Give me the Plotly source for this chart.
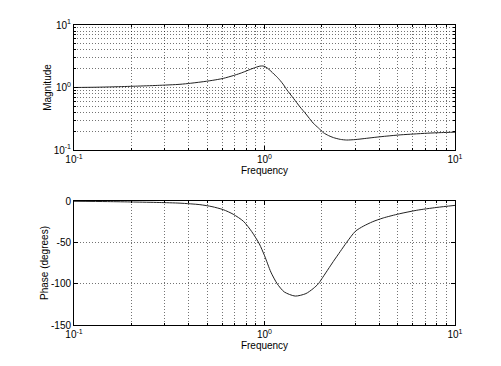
import plotly.graph_objects as go

# Magnitude response
freq_mag = [0.1, 0.13, 0.162, 0.21, 0.274, 0.36, 0.41, 0.497, 0.565, 0.608, 0.685, 0.744, 0.8,
            0.846, 0.9, 0.948, 0.98, 1.006, 1.034, 1.08, 1.12, 1.159, 1.21, 1.26, 1.31, 1.42,
            1.535, 1.65, 1.8, 1.92, 2.04, 2.17, 2.3, 2.5, 2.7, 3.0, 3.44, 3.9, 4.39, 5.2,
            6.04, 7.2, 8.5, 10.0]
mag = [1.0, 1.01, 1.025, 1.05, 1.08, 1.125, 1.17, 1.26, 1.34, 1.40, 1.55, 1.68, 1.83,
       1.96, 2.1, 2.2, 2.21, 2.16, 2.05, 1.83, 1.64, 1.49, 1.29, 1.1, 0.92, 0.67,
       0.49, 0.377, 0.27, 0.225, 0.189, 0.170, 0.158, 0.148, 0.1445, 0.147, 0.154, 0.161, 0.167, 0.175,
       0.180, 0.186, 0.19, 0.193]

# Phase response
freq_ph = [0.1, 0.15, 0.205, 0.28, 0.36, 0.458, 0.53, 0.608, 0.685, 0.775, 0.857, 0.94,
           1.0, 1.08, 1.165, 1.27, 1.45, 1.65, 1.8, 1.92, 2.0, 2.3, 2.5, 2.7, 3.0,
           3.3, 3.7, 4.2, 5.1, 6.3, 8.0, 10.0]
phase = [-0.3, -0.7, -1.2, -1.8, -2.6, -4.4, -6.8, -10.5, -16.0, -24.5, -37.0, -52.0,
         -66.0, -86.0, -100.0, -110.0, -115.0, -112.0, -106.0, -100.0, -94.0, -73.0, -61.0,
         -50.0, -36.6, -30.5, -25.0, -20.5, -15.5, -11.2, -7.8, -5.3]

x_tickvals = [0.1, 1, 10]
x_ticktext = ["10<sup>-1</sup>", "10<sup>0</sup>", "10<sup>1</sup>"]
log_minor = [d * m for m in (0.1, 1) for d in range(2, 10)]
mag_tickvals = [0.1, 1, 10]
mag_ticktext = ["10<sup>-1</sup>", "10<sup>0</sup>", "10<sup>1</sup>"]
ph_tickvals = [0, -50, -100, -150]
ph_ticktext = ["0", "-50", "-100", "-150"]

FONT = "Liberation Sans, Arial, Helvetica, sans-serif"
GRID = "rgba(0,0,0,0.55)"
DASH = "1px,2px"

fig = go.Figure()
fig.add_trace(go.Scatter(x=freq_mag, y=mag, mode="lines",
                         line=dict(color="#222", width=1, shape="spline", smoothing=0.7),
                         xaxis="x", yaxis="y", showlegend=False))
fig.add_trace(go.Scatter(x=freq_ph, y=phase, mode="lines",
                         line=dict(color="#222", width=1, shape="spline", smoothing=0.7),
                         xaxis="x2", yaxis="y2", showlegend=False))

common_x = dict(type="log", range=[-1, 1], tickmode="array", tickvals=x_tickvals, ticktext=x_ticktext,
                showline=True, linecolor="black", linewidth=1, mirror="allticks", ticks="inside",
                ticklen=4, tickcolor="black", showgrid=True, gridcolor=GRID, griddash=DASH, gridwidth=1,
                minor=dict(tickvals=log_minor, ticks="inside", ticklen=2, tickcolor="black",
                           showgrid=True, gridcolor=GRID, griddash=DASH, gridwidth=1),
                zeroline=False, tickfont=dict(size=10, color="black"), automargin=False,
                title=dict(text="Frequency", font=dict(size=10, color="black"), standoff=2))

fig.update_layout(
    width=493, height=358,
    margin=dict(l=66, r=46, t=17, b=41),
    paper_bgcolor="white", plot_bgcolor="white",
    font=dict(family=FONT, size=10, color="black"),
    xaxis=dict(domain=[0, 1], anchor="y", **common_x),
    xaxis2=dict(domain=[0, 1], anchor="y2", **common_x),
    yaxis=dict(domain=[0.5833, 1.0], anchor="x", type="log", range=[-1, 1], tickmode="array",
               tickvals=mag_tickvals, ticktext=mag_ticktext,
               showline=True, linecolor="black", linewidth=1, mirror="allticks", ticks="inside",
               ticklen=4, tickcolor="black", showgrid=True, gridcolor=GRID, griddash=DASH, gridwidth=1,
               minor=dict(tickvals=log_minor, ticks="inside", ticklen=2, tickcolor="black",
                          showgrid=True, gridcolor=GRID, griddash=DASH, gridwidth=1),
               zeroline=False, tickfont=dict(size=10, color="black"), automargin=False,
               title=dict(text="Magnitude", font=dict(size=10, color="black"), standoff=0)),
    yaxis2=dict(domain=[0, 0.4133], anchor="x2", range=[-150, 0], tickmode="array",
                tickvals=ph_tickvals, ticktext=ph_ticktext,
                showline=True, linecolor="black", linewidth=1, mirror="allticks", ticks="inside",
                ticklen=4, tickcolor="black", showgrid=True, gridcolor=GRID, griddash=DASH, gridwidth=1,
                zeroline=False, tickfont=dict(size=10, color="black"), automargin=False,
                title=dict(text="Phase (degrees)", font=dict(size=10, color="black"), standoff=0)),
)

fig.write_html("out.html")
